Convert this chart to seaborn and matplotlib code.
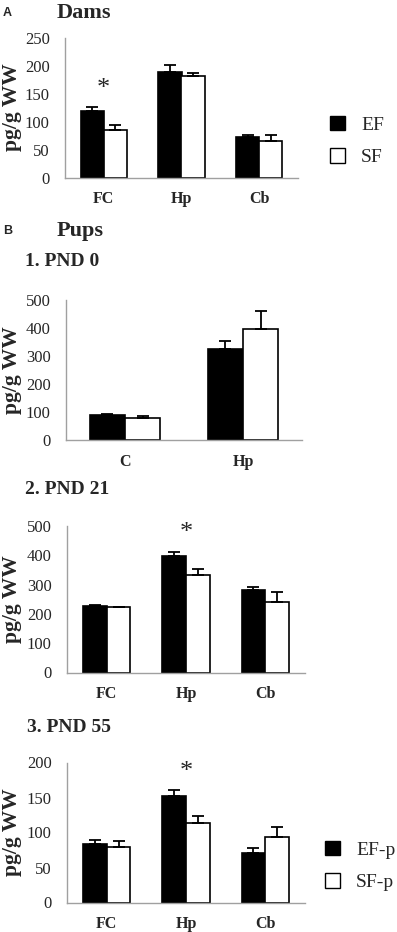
import numpy as np
import pandas as pd
import matplotlib
matplotlib.use("Agg")
import matplotlib.pyplot as plt
from matplotlib.patches import Patch
import seaborn as sns

# Data (means and upper SEM)

dam_regions = ['FC', 'Hp', 'Cb']
dam_ef = [119, 189, 73]
dam_ef_err = [7, 12, 3]
dam_sf = [84, 181, 66]
dam_sf_err = [9, 6, 10]

pnd0_regions = ['C', 'Hp']
pnd0_ef = [88, 324]
pnd0_ef_err = [6, 27]
pnd0_sf = [77, 396]
pnd0_sf_err = [10, 62]

pnd21_regions = ['FC', 'Hp', 'Cb']
pnd21_ef = [227, 398, 281]
pnd21_ef_err = [4, 13, 12]
pnd21_sf = [222, 332, 240]
pnd21_sf_err = [3, 20, 34]

pnd55_regions = ['FC', 'Hp', 'Cb']
pnd55_ef = [83.5, 152.5, 70.5]
pnd55_ef_err = [5.5, 8, 7]
pnd55_sf = [79.5, 114, 93]
pnd55_sf_err = [9, 9.5, 15]

sns.set_style("white")
plt.rcParams['font.family'] = ['Liberation Serif', 'DejaVu Serif']

W, H = 397, 932
fig = plt.figure(figsize=(W / 100, H / 100), dpi=100)


def panel(left, right, top, bottom, regions, ef, ef_err, sf, sf_err, ymax, step,
          stars=()):
    # box given in pixels from the top-left corner
    ax = fig.add_axes([left / W, 1 - bottom / H, (right - left) / W, (bottom - top) / H])
    df = pd.DataFrame({
        'region': regions * 2,
        'group': ['EF'] * len(regions) + ['SF'] * len(regions),
        'value': list(ef) + list(sf),
    })
    sns.barplot(data=df, x='region', y='value', hue='group', order=regions,
                hue_order=['EF', 'SF'], palette=['black', 'white'],
                edgecolor='black', linewidth=1.2, width=0.6, errorbar=None,
                legend=False, ax=ax)
    errs = list(ef_err) + list(sf_err)
    vals = list(ef) + list(sf)
    for p, v, e in zip(ax.patches, vals, errs):
        xc = p.get_x() + p.get_width() / 2
        ax.errorbar(xc, v, yerr=[[0], [e]], color='black', lw=1.3,
                    capsize=4.5, capthick=1.3)
    for i in stars:
        ax.text(i, max(ef[i] + ef_err[i], sf[i] + sf_err[i]) + 0.13 * ymax, '*',
                ha='center', va='center', fontsize=19)
    ax.set_xlim(-0.5, len(regions) - 0.5)
    ax.set_ylim(0, ymax)
    ax.set_yticks(np.arange(0, ymax + 1, step))
    ax.tick_params(axis='y', labelsize=12, length=0, pad=11)
    ax.tick_params(axis='x', labelsize=11.5, length=0, pad=10)
    for lab in ax.get_xticklabels():
        lab.set_fontweight('bold')
    ax.set_xlabel('')
    ax.set_ylabel('pg/g WW', fontsize=15.5, fontweight='bold')
    ax.yaxis.set_label_coords(22 / W, 1 - (top + bottom) / 2 / H,
                              transform=fig.transFigure)
    sns.despine(ax=ax)
    for s in ['left', 'bottom']:
        ax.spines[s].set_color('#a0a0a0')
        ax.spines[s].set_linewidth(1.0)
    return ax


panel(65, 298, 37.5, 177.5, dam_regions, dam_ef, dam_ef_err,
      dam_sf, dam_sf_err, 250, 50, stars=[0])
panel(66, 302, 299.5, 440, pnd0_regions, pnd0_ef, pnd0_ef_err,
      pnd0_sf, pnd0_sf_err, 500, 100)
panel(67, 305, 526, 672.5, pnd21_regions, pnd21_ef, pnd21_ef_err,
      pnd21_sf, pnd21_sf_err, 500, 100, stars=[1])
panel(67, 305, 762.5, 902.5, pnd55_regions, pnd55_ef, pnd55_ef_err,
      pnd55_sf, pnd55_sf_err, 200, 50, stars=[1])

# legends
for labels, x, y in [(['EF', 'SF'], 330, 141), (['EF-p', 'SF-p'], 325, 866)]:
    handles = [Patch(facecolor='black', edgecolor='black'),
               Patch(facecolor='white', edgecolor='black')]
    fig.legend(handles, labels, loc='center left', bbox_to_anchor=(x / W, 1 - y / H),
               frameon=False, fontsize=14, handlelength=0.75, handleheight=0.75,
               handletextpad=0.85, labelspacing=0.75, borderpad=0,
               borderaxespad=0)

# panel titles
fig.text(3 / W, 1 - 13 / H, 'A', fontsize=9, fontweight='bold',
         family='Liberation Sans', va='center')
fig.text(57 / W, 1 - 13 / H, 'Dams', fontsize=16, fontweight='bold', va='center')
fig.text(3 / W, 1 - 231 / H, 'B', fontsize=9, fontweight='bold',
         family='Liberation Sans', va='center')
fig.text(57 / W, 1 - 231 / H, 'Pups', fontsize=16, fontweight='bold', va='center')
fig.text(25 / W, 1 - 261 / H, '1. PND 0', fontsize=14, fontweight='bold', va='center')
fig.text(25 / W, 1 - 490 / H, '2. PND 21', fontsize=14, fontweight='bold', va='center')
fig.text(27 / W, 1 - 727 / H, '3. PND 55', fontsize=14, fontweight='bold', va='center')

fig.savefig('out.png', dpi=100)
